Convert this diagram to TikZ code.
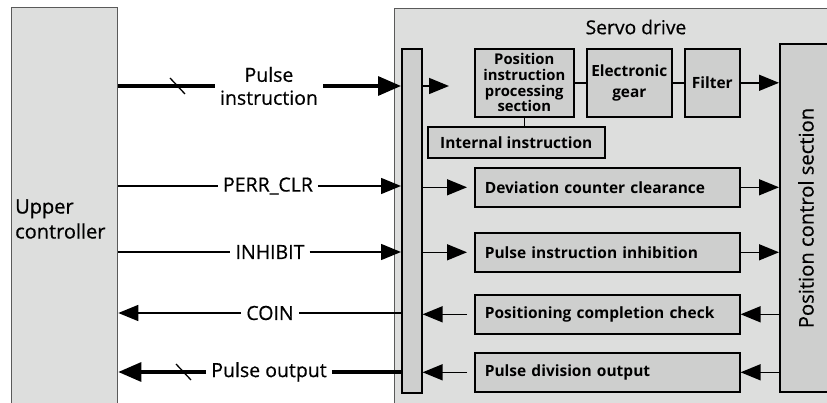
\documentclass[tikz,border=0pt]{standalone}
\usepackage{fontspec}
\setmainfont{Open Sans}
\newfontfamily\medfont{Open Sans}[FakeBold=0.5]
\usetikzlibrary{arrows.meta}
\definecolor{outerfill}{RGB}{221,222,221}
\definecolor{innerfill}{RGB}{206,207,206}
\definecolor{outerline}{RGB}{90,90,90}
\begin{document}
\begin{tikzpicture}[x=1pt,y=-1pt,
  outerbox/.style={draw=outerline, fill=outerfill, line width=1.3pt, anchor=north west, inner sep=0pt},
  innerbox/.style={draw=black, fill=innerfill, line width=1.6pt, anchor=north west, inner sep=0pt,
     font=\fontsize{15.5}{16}\selectfont\bfseries, align=center},
  rowbox/.style={innerbox, inner xsep=10pt, text width=245pt, align=left, minimum height=39pt, inner ysep=0pt},
  lbl/.style={font=\fontsize{19.5}{23}\selectfont\medfont, inner xsep=5pt, inner ysep=0pt, align=center},
  thin/.style={line width=1.5pt},
  thick/.style={line width=3.2pt},
  tip/.style={-{Triangle[length=20pt,width=16pt]}},
  tipbig/.style={-{Triangle[length=23pt,width=19pt]}},
]
\useasboundingbox (0,0) rectangle (827,403);
% outer boxes
\node[outerbox, minimum width=106pt, minimum height=410pt] (uc) at (11,7) {};
\node[anchor=west, align=left, inner sep=0pt, font=\fontsize{20}{25}\selectfont\medfont] (uctext) at (15,219) {Upper\\controller};
\node[outerbox, minimum width=450pt, minimum height=410pt] (servo) at (394,8) {};
\node[font=\fontsize{19.3}{20}\selectfont\medfont] (title) at (636,27) {Servo drive};
% interface bar
\node[draw=black, fill=innerfill, line width=1.6pt, anchor=north west, minimum width=20pt, minimum height=344pt, inner sep=0pt] (bar) at (401,48) {};
% position control section
\node[draw=black, fill=innerfill, line width=1.6pt, anchor=north west, minimum width=60pt, minimum height=348pt, inner sep=0pt] (pcs) at (779,43) {};
\node[rotate=90, font=\fontsize{20.2}{21}\selectfont\medfont] (pcstext) at (806,218) {Position control section};
% top chain
\node[innerbox, minimum width=99pt, minimum height=68pt, font=\fontsize{14.8}{15.7}\selectfont\bfseries] (pips) at (474,48) {Position\\instruction\\processing\\section};
\node[innerbox, minimum width=85pt, minimum height=68pt, font=\fontsize{15.4}{21}\selectfont\bfseries] (eg) at (586,48) {Electronic\\gear};
\node[innerbox, minimum width=55pt, minimum height=68pt] (filt) at (684,48) {Filter};
\node[innerbox, minimum width=177pt, minimum height=31pt] (ii) at (427,126) {Internal instruction};
% rows
\node[rowbox] (dcc) at (474,167) {Deviation counter clearance};
\node[rowbox] (pii) at (474,232) {Pulse instruction inhibition};
\node[rowbox] (pcc) at (474,294) {Positioning completion check};
\node[rowbox] (pdo) at (474,352) {Pulse division output};
% internal connectors
\draw[thin] (pips) -- (eg);
\draw[thin] (eg) -- (filt);
\draw[thin] (pips.south) -- (pips.south |- ii.north);
\draw[thin, tip] (filt) -- (pcs.west |- filt);
\coordinate (t1) at (449,86);
\draw[thin, tip] (bar.east |- t1) -- (t1);
\draw[thin, tip] (bar.east |- dcc) -- ([xshift=-7pt]dcc.west);
\draw[thin, tip] (bar.east |- pii) -- ([xshift=-7pt]pii.west);
\draw[thin, tip] ([xshift=-7pt]pcc.west) -- (bar.east |- pcc);
\draw[thin, tip] ([xshift=-7pt]pdo.west) -- (bar.east |- pdo);
\draw[thin, tip] (dcc) -- (pcs.west |- dcc);
\draw[thin, tip] (pii) -- (pcs.west |- pii);
\draw[thin, tip] (pcs.west |- pcc) -- (pcc);
\draw[thin, tip] (pcs.west |- pdo) -- (pdo);
% external signals
\node[lbl] (l1) at (269,86) {Pulse\\instruction};
\node[lbl] (l2) at (268,186) {PERR\_CLR};
\node[lbl] (l3) at (270,252) {INHIBIT};
\node[lbl] (l4) at (270,313) {COIN};
\node[lbl] (l5) at (269,372) {Pulse output};
\draw[thick] (uc.east |- l1) -- (l1);
\draw[thick, tipbig] (l1) -- (bar.west |- l1);
\draw[thin] (uc.east |- l2) -- (l2);
\draw[thin, tip] (l2) -- (bar.west |- l2);
\draw[thin] (uc.east |- l3) -- (l3);
\draw[thin, tip] (l3) -- (bar.west |- l3);
\draw[thin] (bar.west |- l4) -- (l4);
\draw[thin, tip] (l4) -- (uc.east |- l4);
\draw[thick] (bar.west |- l5) -- (l5);
\draw[thick, tipbig] (l5) -- (uc.east |- l5);
% bus slashes
\draw[line width=1.3pt] (170,78) -- (185,94);
\draw[line width=1.3pt] (176,364) -- (191,380);
\end{tikzpicture}
\end{document}
